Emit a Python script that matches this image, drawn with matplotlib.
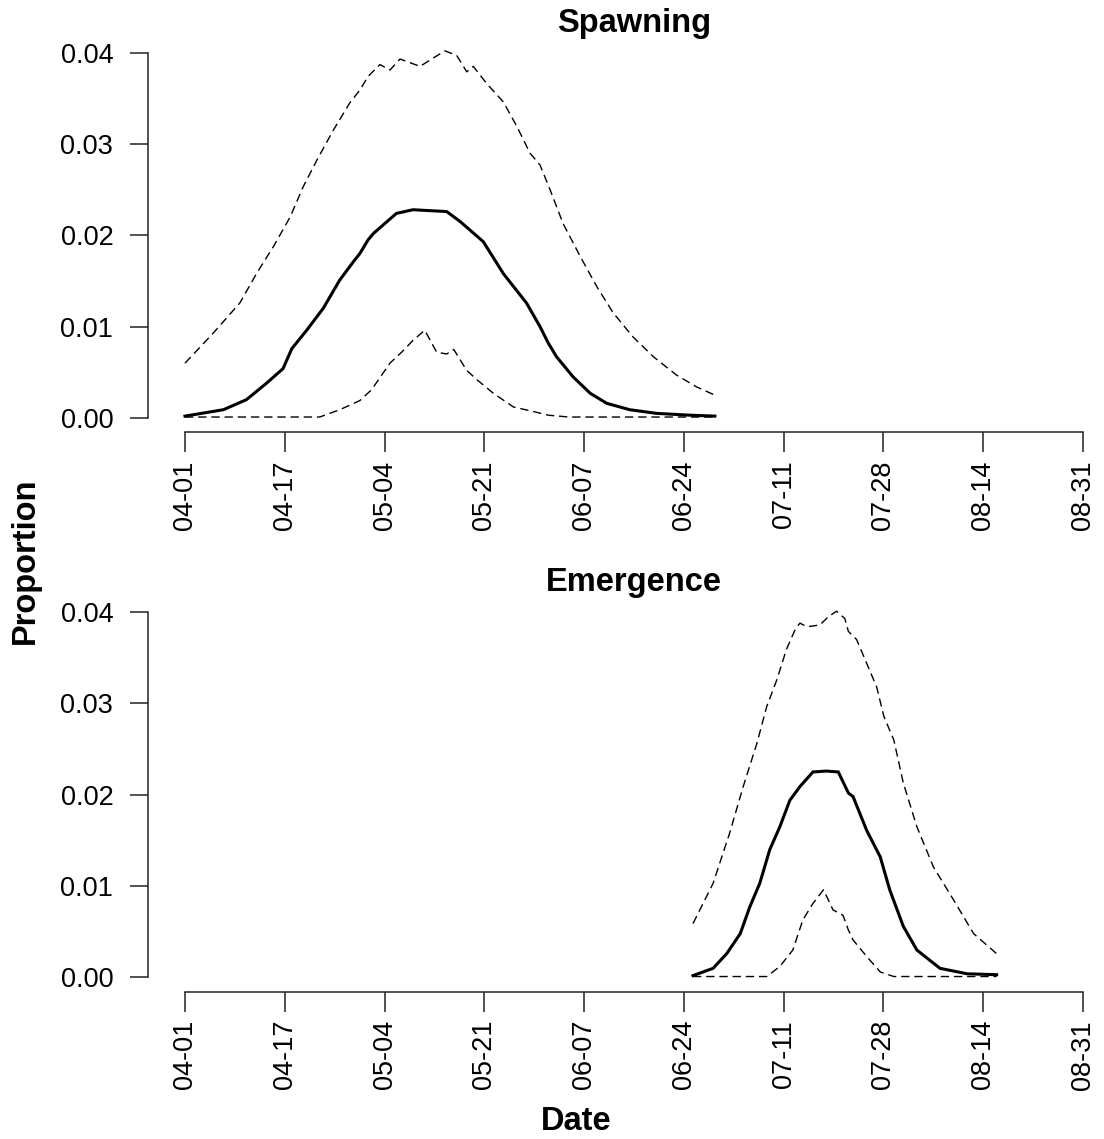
import numpy as np
import matplotlib
matplotlib.use("Agg")
import matplotlib.pyplot as plt

plt.rcParams['font.family'] = ['Liberation Sans', 'DejaVu Sans']

# days counted from 04-01
date_labels = ["04-01", "04-17", "05-04", "05-21", "06-07",
               "06-24", "07-11", "07-28", "08-14", "08-31"]
season_days = 152

# spawning: upper bound, mean, lower bound
spawn_upper_days = [0, 4.8, 9.3, 12.1, 15.0, 17.8, 20.0, 22.3, 25.1, 27.9, 29.6,
                    31.0, 33.0, 34.7, 36.4, 39.8, 42.0, 44.0, 46.0, 47.7, 48.8,
                    51.1, 53.9, 56.2, 58.4, 60.1, 61.8, 64.0, 66.9, 69.7, 72.5,
                    75.8, 79.3, 83.2, 86.6, 89.7]
spawn_upper = [0.0060, 0.0093, 0.0126, 0.0158, 0.0188, 0.0220, 0.0253, 0.0282,
               0.0315, 0.0345, 0.0359, 0.0374, 0.0387, 0.0381, 0.0393, 0.0385,
               0.0394, 0.0402, 0.0397, 0.0379, 0.0385, 0.0366, 0.0346, 0.0319,
               0.0290, 0.0277, 0.0250, 0.0213, 0.0177, 0.0144, 0.0115, 0.0089,
               0.0067, 0.0047, 0.0034, 0.0025]

spawn_mean_days = [0, 6.5, 10.4, 13.8, 16.6, 18.1, 20.6, 23.4, 26.2, 28.5, 29.6,
                   31.0, 31.9, 35.8, 38.6, 44.3, 46.6, 50.5, 53.9, 57.8, 60.1,
                   61.5, 62.9, 65.7, 68.6, 71.4, 75.3, 79.8, 85.5, 89.7]
spawn_mean = [0.0002, 0.0009, 0.0020, 0.0038, 0.0054, 0.0076, 0.0096, 0.0120,
              0.0151, 0.0171, 0.0180, 0.0195, 0.0202, 0.0224, 0.0228, 0.0226,
              0.0215, 0.0193, 0.0158, 0.0126, 0.0100, 0.0082, 0.0067, 0.0045,
              0.0027, 0.0016, 0.0009, 0.0005, 0.0003, 0.0002]

spawn_lower_days = [0, 22.8, 26.2, 29.6, 31.6, 34.7, 37.0, 38.6, 40.6, 42.6,
                    44.3, 45.5, 47.7, 49.4, 52.2, 55.6, 59.0, 61.5, 65.0, 89.7]
spawn_lower = [0.0001, 0.0001, 0.0009, 0.0019, 0.0031, 0.0060, 0.0074, 0.0085,
               0.0096, 0.0072, 0.0070, 0.0075, 0.0052, 0.0042, 0.0027, 0.0012,
               0.0007, 0.0003, 0.0001, 0.0001]

# emergence: upper bound, mean, lower bound
emerg_upper_days = [86.0, 89.4, 92.2, 94.5, 96.8, 98.5, 100.2, 101.8, 103.3,
                    104.1, 105.3, 107.5, 108.9, 110.3, 111.7, 112.3, 113.7,
                    115.4, 117.1, 118.3, 120.0, 121.6, 123.9, 126.7, 130.1,
                    133.5, 137.4]
emerg_upper = [0.0059, 0.0103, 0.0158, 0.0209, 0.0256, 0.0297, 0.0326, 0.0359,
               0.0381, 0.0388, 0.0384, 0.0386, 0.0395, 0.0401, 0.0393, 0.0379,
               0.0370, 0.0344, 0.0318, 0.0286, 0.0260, 0.0213, 0.0165, 0.0121,
               0.0085, 0.0048, 0.0026]

emerg_mean_days = [86.0, 89.4, 91.7, 94.0, 95.6, 97.3, 99.0, 100.7, 102.4, 104.1,
                   106.3, 108.6, 110.6, 112.3, 113.1, 115.4, 117.7, 119.3, 121.6,
                   123.9, 127.8, 132.4, 137.4]
emerg_mean = [0.0002, 0.0010, 0.0026, 0.0048, 0.0077, 0.0103, 0.0140, 0.0165,
              0.0194, 0.0209, 0.0225, 0.0226, 0.0225, 0.0202, 0.0198, 0.0161,
              0.0132, 0.0096, 0.0056, 0.0030, 0.0010, 0.0004, 0.0003]

emerg_lower_days = [86.0, 98.5, 100.7, 102.9, 104.6, 106.3, 108.1, 109.7, 111.4,
                    112.3, 113.1, 115.4, 117.7, 120.0, 137.4]
emerg_lower = [0.0001, 0.0001, 0.0012, 0.0030, 0.0063, 0.0081, 0.0096, 0.0074,
               0.0068, 0.0052, 0.0041, 0.0023, 0.0006, 0.0001, 0.0001]

W, H = 1104, 1139
DASH = (0, (6, 3.5))
AX_LEFT, AX_RIGHT = 148, 1100


def px_axes(fig, left, top, right, bottom):
    """Add axes from pixel edges measured from the top-left corner."""
    return fig.add_axes([left / W, 1 - bottom / H, (right - left) / W, (bottom - top) / H])


def draw_panel(ax, title, upper, mean, lower):
    ax.plot(upper[0], upper[1], color="black", lw=1.0, linestyle=DASH)
    ax.plot(mean[0], mean[1], color="black", lw=2.2, solid_joinstyle="miter")
    ax.plot(lower[0], lower[1], color="black", lw=1.0, linestyle=DASH)

    ax.set_xlim(-6.26, 154.9)
    ax.set_ylim(-0.00154, 0.04154)
    for side in ("top", "right"):
        ax.spines[side].set_visible(False)
    for side in ("left", "bottom"):
        ax.spines[side].set_linewidth(1.1)
        ax.spines[side].set_color("#222222")
    ax.spines["left"].set_bounds(0, 0.04)
    ax.spines["bottom"].set_bounds(0, season_days)

    ax.set_yticks([0.00, 0.01, 0.02, 0.03, 0.04])
    ax.set_yticklabels(["0.00", "0.01", "0.02", "0.03", "0.04"])
    ax.set_xticks(np.linspace(0, season_days, len(date_labels)))
    ax.set_xticklabels(date_labels, rotation=90)
    ax.tick_params(axis="y", length=13, width=1.1, pad=12, labelsize=19.5,
                   color="#222222")
    ax.tick_params(axis="x", length=14.5, width=1.1, pad=6, labelsize=19.5,
                   color="#222222")
    # centre the title over the date range rather than the padded axes
    title_x = (634 - AX_LEFT) / (AX_RIGHT - AX_LEFT)
    ax.set_title(title, fontsize=23.5, fontweight="bold", pad=4.5, x=title_x)


fig = plt.figure(figsize=(W / 100, H / 100), dpi=100)

ax1 = px_axes(fig, AX_LEFT, 38.6, AX_RIGHT, 432)
draw_panel(ax1, "Spawning",
           (spawn_upper_days, spawn_upper),
           (spawn_mean_days, spawn_mean),
           (spawn_lower_days, spawn_lower))

ax2 = px_axes(fig, AX_LEFT, 598.1, AX_RIGHT, 991.5)
draw_panel(ax2, "Emergence",
           (emerg_upper_days, emerg_upper),
           (emerg_mean_days, emerg_mean),
           (emerg_lower_days, emerg_lower))

fig.text(25 / W, 1 - 561 / H, "Proportion", rotation=90, fontsize=23.5,
         fontweight="bold", ha="center", va="center")
fig.text(576 / W, 1 - 1122 / H, "Date", fontsize=23.5, fontweight="bold",
         ha="center", va="center")

fig.savefig("out.png", dpi=100, facecolor="white")
